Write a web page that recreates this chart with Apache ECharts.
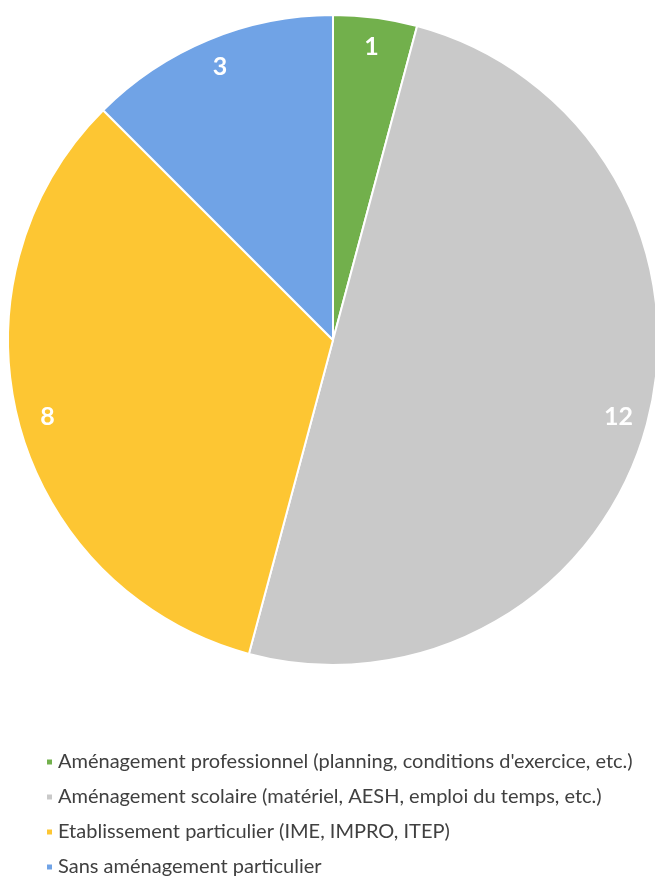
<!DOCTYPE html>
<html>
<head>
<meta charset="utf-8">
<script src="https://cdn.jsdelivr.net/npm/echarts@6/dist/echarts.min.js"></script>
<style>
  html, body { margin: 0; padding: 0; background: #fff; }
  #chart { width: 655px; height: 879px; }
</style>
</head>
<body>
<div id="chart"></div>
<script>
var categories = [
  "Aménagement professionnel (planning, conditions d'exercice, etc.)",
  "Aménagement scolaire (matériel, AESH, emploi du temps, etc.)",
  "Etablissement particulier (IME, IMPRO, ITEP)",
  "Sans aménagement particulier"
];
var values = [1, 12, 8, 3];
var colors = ["#72b04c", "#c9c9c9", "#fdc633", "#70a3e6"];

var chart = echarts.init(document.getElementById("chart"));

var pieData = categories.map(function (name, i) {
  return { name: name, value: values[i], itemStyle: { color: colors[i] } };
});
var labelData = categories.map(function (name, i) {
  return { name: name, value: values[i] };
});

chart.setOption({
  animation: false,
  legend: {
    orient: "vertical",
    left: 40,
    top: 747,
    height: 140,
    itemWidth: 7,
    itemHeight: 7,
    itemGap: 15,
    icon: "rect",
    textStyle: {
      fontFamily: "Lato",
      fontSize: 20,
      color: "#404040"
    },
    data: categories
  },
  series: [
    {
      type: "pie",
      center: [333, 340],
      radius: 325,
      startAngle: 90,
      clockwise: true,
      data: pieData,
      label: { show: false },
      labelLine: { show: false },
      itemStyle: { borderColor: "#fff", borderWidth: 2 },
      emphasis: { disabled: true }
    },
    {
      // transparent ring used only to place the value labels near the rim
      type: "pie",
      center: [333, 340],
      radius: [260, 325],
      startAngle: 90,
      clockwise: true,
      silent: true,
      data: labelData,
      itemStyle: { color: "rgba(0,0,0,0)" },
      label: {
        show: true,
        position: "inside",
        formatter: "{c}",
        color: "#fff",
        fontFamily: "Lato",
        fontWeight: "bold",
        fontSize: 25
      },
      labelLine: { show: false },
      emphasis: { disabled: true }
    }
  ]
});
</script>
</body>
</html>
